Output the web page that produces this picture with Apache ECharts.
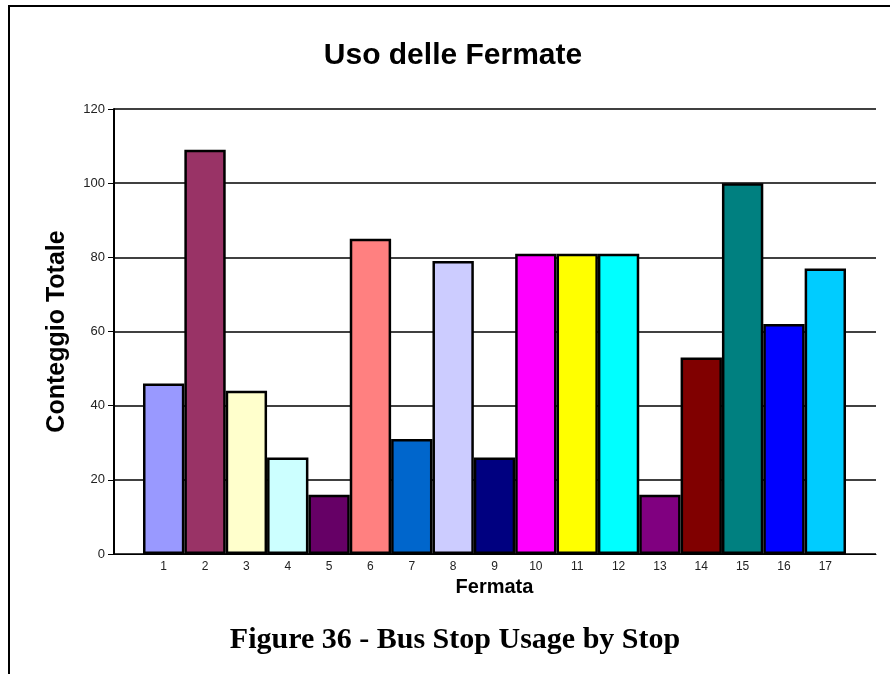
<!DOCTYPE html>
<html lang="it">
<head>
    <meta charset="UTF-8">
    <title>Uso delle Fermate</title>
    <script src="https://cdn.jsdelivr.net/npm/echarts@6/dist/echarts.min.js"></script>
    <style>
        html, body { margin: 0; padding: 0; background: #fff; }
    </style>
</head>
<body>
    <div id="chart" style="width: 890px; height: 674px;"></div>
    <script>
        // Stop numbers and total counts
        var stops = ['1', '2', '3', '4', '5', '6', '7', '8', '9', '10', '11', '12', '13', '14', '15', '16', '17'];
        var counts = [46, 109, 44, 26, 16, 85, 31, 79, 26, 81, 81, 81, 16, 53, 100, 62, 77];
        var barColors = ['#9999FF', '#993366', '#FFFFCC', '#CCFFFF', '#660066', '#FF8080', '#0066CC', '#CCCCFF',
            '#000080', '#FF00FF', '#FFFF00', '#00FFFF', '#800080', '#800000', '#008080', '#0000FF', '#00CCFF'];
        var yTicks = [0, 20, 40, 60, 80, 100, 120];

        var chart = echarts.init(document.getElementById('chart'));

        var barData = counts.map(function (v, i) {
            return { value: v, itemStyle: { color: barColors[i] } };
        });

        var option = {
            animation: false,
            backgroundColor: '#fff',
            title: [
                {
                    text: 'Uso delle Fermate',
                    left: 448,
                    textAlign: 'center',
                    top: 36,
                    textStyle: { fontFamily: 'Liberation Sans', fontSize: 30, fontWeight: 'bold', color: '#000' }
                },
                {
                    text: 'Figure 36 - Bus Stop Usage by Stop',
                    left: 450,
                    textAlign: 'center',
                    top: 620,
                    textStyle: { fontFamily: 'Liberation Serif', fontSize: 30, fontWeight: 'bold', color: '#000' }
                }
            ],
            // outer frame (only top and left edges fall inside the picture)
            graphic: [{
                type: 'rect',
                shape: { x: 9, y: 6, width: 1000, height: 1000 },
                style: { fill: 'none', stroke: '#000', lineWidth: 2 },
                silent: true
            }],
            grid: [
                { left: 114, right: 14, top: 109, bottom: 120 },
                { left: 143, right: 44, top: 109, bottom: 120 }
            ],
            xAxis: [
                {
                    gridIndex: 0, type: 'value', min: 0, max: 1,
                    axisLine: { show: true, lineStyle: { color: '#000', width: 1 } },
                    axisTick: { show: false }, axisLabel: { show: false }, splitLine: { show: false }
                },
                {
                    gridIndex: 1, type: 'category', data: stops,
                    axisLine: { show: false }, axisTick: { show: false }, splitLine: { show: false },
                    axisLabel: { margin: 7, fontFamily: 'Liberation Sans', fontSize: 12, color: '#222' },
                    name: 'Fermata', nameLocation: 'middle', nameGap: 21,
                    nameTextStyle: { fontFamily: 'Liberation Sans', fontSize: 20, fontWeight: 'bold', color: '#000' }
                }
            ],
            yAxis: [
                {
                    gridIndex: 0, type: 'value', min: yTicks[0], max: yTicks[yTicks.length - 1], interval: 20,
                    axisLine: { show: true, lineStyle: { color: '#000', width: 2 } },
                    axisTick: { show: true, length: 6, lineStyle: { color: '#000', width: 1 } },
                    axisLabel: { margin: 9, fontFamily: 'Liberation Sans', fontSize: 13, color: '#222' },
                    splitLine: { show: true, lineStyle: { color: '#000', width: 1.5 } },
                    name: 'Conteggio Totale', nameLocation: 'middle', nameGap: 44,
                    nameTextStyle: { fontFamily: 'Liberation Sans', fontSize: 25, fontWeight: 'bold', color: '#000' }
                },
                {
                    gridIndex: 1, type: 'value', min: yTicks[0], max: yTicks[yTicks.length - 1], show: false
                }
            ],
            series: [{
                type: 'bar',
                xAxisIndex: 1,
                yAxisIndex: 1,
                barWidth: '100%',
                data: barData,
                itemStyle: { borderColor: '#000', borderWidth: 2.5 }
            }]
        };

        chart.setOption(option);
    </script>
</body>
</html>
